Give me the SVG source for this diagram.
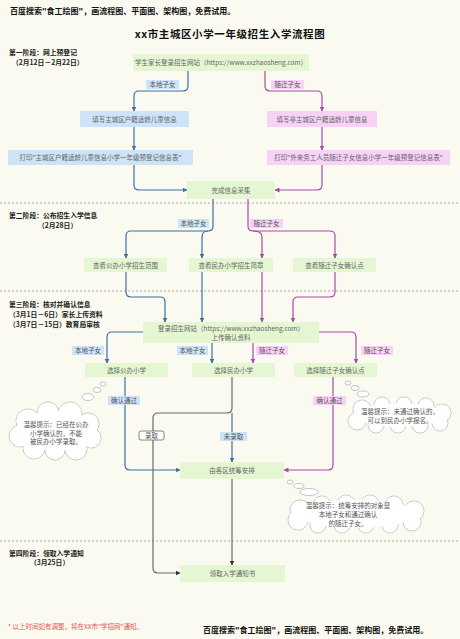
<svg xmlns="http://www.w3.org/2000/svg" width="460" height="639" viewBox="0 0 460 639">
<defs>
<style>
text{font-family:"Noto Sans CJK SC","Liberation Sans",sans-serif;}
.bg{fill:#fafaf0;}
.wm{font-size:8px;font-weight:700;fill:#111;}
.title{font-size:10.5px;font-weight:700;fill:#111;letter-spacing:0.6px;}
.stage{font-size:6.8px;font-weight:700;fill:#222;}
.g{fill:#e4f7d2;}
.b{fill:#cde3f8;}
.p{fill:#f7d2f6;}
.t{font-size:6.5px;fill:#666;text-anchor:middle;}
.lb{font-size:6.5px;fill:#555;text-anchor:middle;}
.sep{stroke:#9a9a9a;stroke-width:0.8;stroke-dasharray:2,2;fill:none;}
.lblue{stroke:#3f6fa3;stroke-width:1.2;fill:none;marker-end:url(#ab);}
.lpink{stroke:#a94aa9;stroke-width:1.2;fill:none;marker-end:url(#ap);}
.lgray{stroke:#6a6a6a;stroke-width:1.2;fill:none;marker-end:url(#ag);}
.nm{marker-end:none;}
.cl{fill:#fff;stroke:#bdbdbd;stroke-width:0.9;}
.cf{fill:#fff;}
.ct{font-size:6.5px;fill:#555;text-anchor:middle;}
</style>
<marker id="ab" viewBox="0 0 10 10" refX="9" refY="5" markerWidth="5" markerHeight="5" orient="auto" markerUnits="userSpaceOnUse"><path d="M0,0 L10,5 L0,10 z" fill="#3f6fa3"/></marker>
<marker id="ap" viewBox="0 0 10 10" refX="9" refY="5" markerWidth="5" markerHeight="5" orient="auto" markerUnits="userSpaceOnUse"><path d="M0,0 L10,5 L0,10 z" fill="#a94aa9"/></marker>
<marker id="ag" viewBox="0 0 10 10" refX="9" refY="5" markerWidth="5" markerHeight="5" orient="auto" markerUnits="userSpaceOnUse"><path d="M0,0 L10,5 L0,10 z" fill="#333"/></marker>
</defs>
<rect class="bg" x="0" y="0" width="460" height="639"/>

<text class="wm" x="10" y="14">百度搜索"食工绘图"，画流程图、平面图、架构图，免费试用。</text>
<text class="title" x="230" y="38" text-anchor="middle">xx市主城区小学一年级招生入学流程图</text>

<g id="stages">
<text class="stage" x="9" y="55">第一阶段：网上预登记</text>
<text class="stage" x="12" y="65">（2月12日－2月22日）</text>
<text class="stage" x="9" y="218">第二阶段：公布招生入学信息</text>
<text class="stage" x="38" y="228">（2月28日）</text>
<text class="stage" x="9" y="307">第三阶段：核对并确认信息</text>
<text class="stage" x="9" y="317">（3月1日－6日）家长上传资料</text>
<text class="stage" x="9" y="327">（3月7日－15日）教育局审核</text>
<text class="stage" x="9" y="556">第四阶段：领取入学通知</text>
<text class="stage" x="30" y="565">（3月25日）</text>
</g>

<g id="separators">
<line class="sep" x1="0" y1="203" x2="460" y2="203"/>
<line class="sep" x1="0" y1="291" x2="460" y2="291"/>
<line class="sep" x1="0" y1="541" x2="460" y2="541"/>
</g>

<g id="connectors">
<path class="lblue" d="M188,71 V86 Q188,91 183,91 H139 Q134,91 134,96 V111"/>
<path class="lpink" d="M265,71 V86 Q265,91 270,91 H317 Q322,91 322,96 V111"/>
<path class="lblue" d="M134,127 V150"/>
<path class="lpink" d="M322,127 V150"/>
<path class="lblue" d="M134,165 V185 Q134,190 139,190 H187"/>
<path class="lpink" d="M322,165 V185 Q322,190 317,190 H275"/>

<path class="lblue" d="M213,199 V226 Q213,231 208,231 H131 Q126,231 126,236 V258"/>
<path class="lblue" d="M208,231 Q202,231 202,237 V258"/>
<path class="lpink" d="M248,199 V226 Q248,231 253,231 H330 Q335,231 335,236 V258"/>
<path class="lpink" d="M253,231 Q262,231 262,237 V258"/>

<path class="lblue" d="M126,272 V292 Q126,297 131,297 H160 Q165,297 165,302 V322"/>
<path class="lblue" d="M202,272 V322"/>
<path class="lpink" d="M262,272 V322"/>
<path class="lpink" d="M335,272 V292 Q335,297 330,297 H298 Q293,297 293,302 V322"/>

<path class="lblue" d="M143,332 H112 Q107,332 107,337 V363"/>
<path class="lblue" d="M212,343 V363"/>
<path class="lpink" d="M253,343 V363"/>
<path class="lpink" d="M319,332 H351 Q356,332 356,337 V363"/>

<path class="lblue" d="M125,377 V465 Q125,470 130,470 H180"/>
<path class="lpink" d="M333,377 V465 Q333,470 328,470 H284"/>
<path class="lgray" d="M232,377 V408 Q232,413 227,413 H158 Q153,413 153,418 V568 Q153,573 158,573 H180"/>
<path class="lblue" d="M232,413 V462"/>
<path class="lgray" d="M232,479 V565"/>

<rect class="b" x="146" y="80" width="33" height="9"/><text class="lb" x="162.5" y="87">本地子女</text>
<rect class="p" x="271" y="80" width="33" height="9"/><text class="lb" x="287.5" y="87">随迁子女</text>
<rect class="b" x="178" y="219" width="31" height="9"/><text class="lb" x="193.5" y="226">本地子女</text>
<rect class="p" x="250" y="219" width="33" height="9"/><text class="lb" x="266.5" y="226">随迁子女</text>
<rect class="b" x="72" y="346" width="32" height="9"/><text class="lb" x="88" y="353">本地子女</text>
<rect class="b" x="177" y="346" width="31" height="9"/><text class="lb" x="192.5" y="353">本地子女</text>
<rect class="p" x="256" y="346" width="32" height="9"/><text class="lb" x="272" y="353">随迁子女</text>
<rect class="p" x="361" y="346" width="32" height="9"/><text class="lb" x="377" y="353">随迁子女</text>
<rect class="b" x="108" y="396" width="32" height="9"/><text class="lb" x="124" y="403">确认通过</text>
<rect class="p" x="313" y="396" width="33" height="9"/><text class="lb" x="329.5" y="403">确认通过</text>
<rect x="139" y="431" width="25" height="9" rx="2" fill="#fff" stroke="#666" stroke-width="0.8"/><text class="lb" x="151.5" y="438">录取</text>
<rect class="b" x="220" y="432" width="27" height="9"/><text class="lb" x="233.5" y="439">未录取</text>
</g>

<g id="n1"><rect class="g" x="133" y="54" width="176" height="17"/><text class="t" x="221" y="65">学生家长登录招生网站（https://www.xxzhaosheng.com）</text></g>
<g id="n2"><rect class="b" x="80" y="111" width="109" height="16"/><text class="t" x="134.5" y="121.5">填写主城区户籍适龄儿童信息</text></g>
<g id="n3"><rect class="p" x="267" y="111" width="110" height="16"/><text class="t" x="322" y="121.5">填写非主城区户籍适龄儿童信息</text></g>
<g id="n4"><rect class="b" x="8" y="150" width="185" height="15"/><text class="t" x="100.5" y="160">打印"主城区户籍适龄儿童信息小学一年级预登记信息表"</text></g>
<g id="n5"><rect class="p" x="267" y="150" width="183" height="15"/><text class="t" x="358.5" y="160">打印"外来务工人员随迁子女信息小学一年级预登记信息表"</text></g>
<g id="n6"><rect class="g" x="187" y="181" width="88" height="18"/><text class="t" x="231" y="192.5">完成信息采集</text></g>

<g id="n7"><rect class="g" x="84" y="258" width="83" height="14"/><text class="t" x="125.5" y="267.5">查看公办小学招生范围</text></g>
<g id="n8"><rect class="g" x="189" y="258" width="84" height="14"/><text class="t" x="231" y="267.5">查看民办小学招生简章</text></g>
<g id="n9"><rect class="g" x="293" y="258" width="83" height="14"/><text class="t" x="334.5" y="267.5">查看随迁子女确认点</text></g>

<g id="n10"><rect class="g" x="143" y="322" width="176" height="21"/><text class="t" x="231" y="331">登录招生网站（https://www.xxzhaosheng.com）</text><text class="t" x="231" y="340">上传确认资料</text></g>

<g id="n11"><rect class="g" x="85" y="363" width="83" height="14"/><text class="t" x="126.5" y="372.5">选择公办小学</text></g>
<g id="n12"><rect class="g" x="192" y="363" width="83" height="14"/><text class="t" x="233.5" y="372.5">选择民办小学</text></g>
<g id="n13"><rect class="g" x="294" y="363" width="83" height="14"/><text class="t" x="335.5" y="372.5">选择随迁子女确认点</text></g>

<g id="n14"><rect class="g" x="180" y="462" width="104" height="17"/><text class="t" x="232" y="473">由各区统筹安排</text></g>
<g id="n15"><rect class="g" x="180" y="565" width="105" height="17"/><text class="t" x="232.5" y="576">领取入学通知书</text></g>

<g id="cloud1">
<ellipse class="cl" cx="88" cy="397" rx="6" ry="3.5"/>
<ellipse class="cl" cx="97" cy="390" rx="4" ry="2.5"/>
<ellipse class="cl" cx="103" cy="384" rx="3" ry="2"/>
<g class="cl">
<circle cx="28" cy="421" r="12"/><circle cx="48" cy="413" r="11"/><circle cx="70" cy="414" r="12"/><circle cx="88" cy="424" r="11"/><circle cx="91" cy="438" r="10"/><circle cx="76" cy="449" r="11"/><circle cx="55" cy="450" r="10"/><circle cx="34" cy="448" r="11"/><circle cx="20" cy="436" r="11"/>
</g>
<g class="cf">
<circle cx="28" cy="421" r="11.5"/><circle cx="48" cy="413" r="10.5"/><circle cx="70" cy="414" r="11.5"/><circle cx="88" cy="424" r="10.5"/><circle cx="91" cy="438" r="9.5"/><circle cx="76" cy="449" r="10.5"/><circle cx="55" cy="450" r="9.5"/><circle cx="34" cy="448" r="10.5"/><circle cx="20" cy="436" r="10.5"/>
<ellipse cx="56" cy="431" rx="40" ry="20"/>
</g>
<text class="ct" x="56" y="427">温馨提示：已经在公办</text>
<text class="ct" x="56" y="435.5">小学确认的，不能</text>
<text class="ct" x="56" y="444">被民办小学录取。</text>
</g>

<g id="cloud2">
<ellipse class="cl" cx="363" cy="394" rx="6" ry="3"/>
<ellipse class="cl" cx="355" cy="388" rx="4" ry="2.5"/>
<ellipse class="cl" cx="348" cy="383" rx="3" ry="2"/>
<g class="cl">
<circle cx="362" cy="409" r="9"/><circle cx="382" cy="405" r="8"/><circle cx="404" cy="405" r="8"/><circle cx="426" cy="406" r="8"/><circle cx="442" cy="413" r="9"/><circle cx="440" cy="423" r="8"/><circle cx="420" cy="425" r="8"/><circle cx="398" cy="425" r="8"/><circle cx="376" cy="425" r="8"/><circle cx="357" cy="421" r="9"/>
</g>
<g class="cf">
<circle cx="362" cy="409" r="8.5"/><circle cx="382" cy="405" r="7.5"/><circle cx="404" cy="405" r="7.5"/><circle cx="426" cy="406" r="7.5"/><circle cx="442" cy="413" r="8.5"/><circle cx="440" cy="423" r="7.5"/><circle cx="420" cy="425" r="7.5"/><circle cx="398" cy="425" r="7.5"/><circle cx="376" cy="425" r="7.5"/><circle cx="357" cy="421" r="8.5"/>
<ellipse cx="400" cy="415" rx="44" ry="12"/>
</g>
<text class="ct" x="400" y="414">温馨提示：未通过确认的，</text>
<text class="ct" x="400" y="423">可以到民办小学报名。</text>
</g>

<g id="cloud3">
<ellipse class="cl" cx="309" cy="492" rx="9" ry="3.5"/>
<ellipse class="cl" cx="299" cy="486" rx="5" ry="2.5"/>
<ellipse class="cl" cx="290" cy="482" rx="3" ry="2"/>
<g class="cl">
<circle cx="300" cy="510" r="10"/><circle cx="322" cy="505" r="9"/><circle cx="346" cy="504" r="9"/><circle cx="370" cy="504" r="9"/><circle cx="394" cy="505" r="9"/><circle cx="414" cy="511" r="10"/><circle cx="412" cy="522" r="9"/><circle cx="390" cy="525" r="8"/><circle cx="366" cy="525" r="8"/><circle cx="342" cy="525" r="8"/><circle cx="318" cy="525" r="8"/><circle cx="298" cy="520" r="10"/>
</g>
<g class="cf">
<circle cx="300" cy="510" r="9.5"/><circle cx="322" cy="505" r="8.5"/><circle cx="346" cy="504" r="8.5"/><circle cx="370" cy="504" r="8.5"/><circle cx="394" cy="505" r="8.5"/><circle cx="414" cy="511" r="9.5"/><circle cx="412" cy="522" r="8.5"/><circle cx="390" cy="525" r="7.5"/><circle cx="366" cy="525" r="7.5"/><circle cx="342" cy="525" r="7.5"/><circle cx="318" cy="525" r="7.5"/><circle cx="298" cy="520" r="9.5"/>
<ellipse cx="356" cy="514" rx="60" ry="14"/>
</g>
<text class="ct" x="348" y="508">温馨提示：统筹安排的对象是</text>
<text class="ct" x="348" y="517">本地子女和通过确认</text>
<text class="ct" x="348" y="526">的随迁子女。</text>
</g>

<text x="8" y="629" font-size="6.5" fill="#e05555">* 以上时间如有调整，将在XX市"学招网"通知。</text>
<text class="wm" x="203" y="633">百度搜索"食工绘图"，画流程图、平面图、架构图，免费试用。</text>
</svg>
